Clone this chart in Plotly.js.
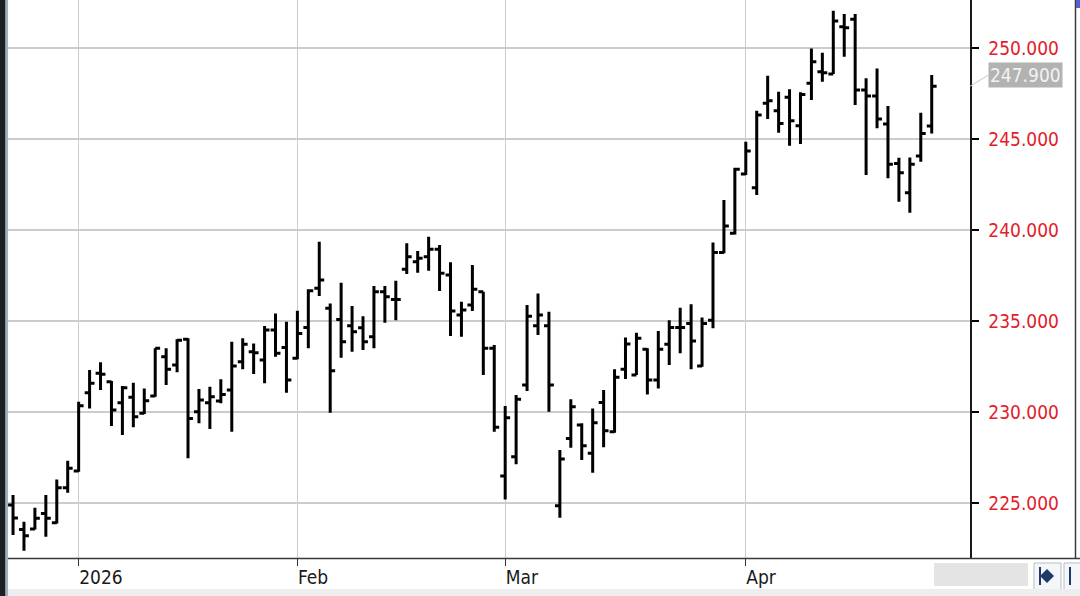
<!DOCTYPE html>
<html>
<head>
<meta charset="utf-8">
<script src="https://cdn.plot.ly/plotly-3.0.1.min.js"></script>
<style>
html,body{margin:0;padding:0;background:#fff;}
#chart{width:1080px;height:596px;}
</style>
</head>
<body>
<div id="chart"></div>
<script>
const dates = [
'2025-12-23','2025-12-24','2025-12-26','2025-12-29','2025-12-30','2025-12-31',
'2026-01-02','2026-01-05','2026-01-06','2026-01-07','2026-01-08','2026-01-09',
'2026-01-12','2026-01-13','2026-01-14','2026-01-15','2026-01-16',
'2026-01-20','2026-01-21','2026-01-22','2026-01-23',
'2026-01-26','2026-01-27','2026-01-28','2026-01-29','2026-01-30',
'2026-02-02','2026-02-03','2026-02-04','2026-02-05','2026-02-06',
'2026-02-09','2026-02-10','2026-02-11','2026-02-12','2026-02-13',
'2026-02-17','2026-02-18','2026-02-19','2026-02-20',
'2026-02-23','2026-02-24','2026-02-25','2026-02-26','2026-02-27',
'2026-03-02','2026-03-03','2026-03-04','2026-03-05','2026-03-06',
'2026-03-09','2026-03-10','2026-03-11','2026-03-12','2026-03-13',
'2026-03-16','2026-03-17','2026-03-18','2026-03-19','2026-03-20',
'2026-03-23','2026-03-24','2026-03-25','2026-03-26','2026-03-27',
'2026-03-30','2026-03-31',
'2026-04-01','2026-04-02',
'2026-04-06','2026-04-07','2026-04-08','2026-04-09','2026-04-10',
'2026-04-13','2026-04-14','2026-04-15','2026-04-16','2026-04-17',
'2026-04-20','2026-04-21','2026-04-22','2026-04-23','2026-04-24',
'2026-04-27'
];

const openPrices = [
224.89,223.55,223.57,224.43,223.92,225.84,226.76,231.06,232.13,231.67,
230.51,230.81,229.93,230.88,233.04,232.58,234.00,230.02,230.51,230.60,
231.21,232.76,233.31,232.86,234.51,233.55,232.95,234.65,236.80,235.70,
235.09,234.74,234.63,234.14,236.61,236.19,237.84,238.26,238.53,238.94,
237.53,235.33,235.88,236.61,233.50,226.48,227.54,231.48,234.74,234.74,
224.85,228.55,229.29,227.73,230.53,228.92,232.35,232.03,233.45,231.76,
233.72,234.65,234.87,232.53,235.05,238.77,239.82,243.08,242.32,246.96,
246.56,247.29,245.73,248.06,248.70,248.57,251.17,251.58,247.69,247.36,
245.82,243.66,242.05,244.07,245.71
];
const highPrices = [
225.44,223.97,224.74,225.44,226.30,227.32,230.57,232.31,232.73,231.70,
231.43,231.61,231.30,233.50,233.50,234.00,234.05,231.26,231.39,231.80,
233.86,234.05,233.77,234.73,235.42,234.96,235.57,236.74,239.36,235.97,
237.10,235.82,235.27,236.92,236.92,237.21,239.27,238.85,239.63,239.18,
238.23,236.06,238.08,236.61,233.68,230.33,230.93,235.88,236.52,235.51,
227.91,230.70,229.38,230.20,231.21,232.35,234.10,234.36,233.50,234.45,
235.05,235.73,235.92,235.20,239.32,241.65,243.42,244.85,246.56,248.48,
247.60,247.73,247.57,249.98,249.74,252.05,251.87,251.87,248.34,248.88,
246.81,243.97,243.99,246.45,248.52
];
const lowPrices = [
223.24,222.38,223.55,223.15,223.88,225.57,226.72,230.20,231.21,229.23,
228.74,229.16,229.89,230.84,231.48,232.18,227.46,229.38,229.07,230.48,
228.92,232.35,232.09,231.58,233.04,231.06,232.90,233.50,236.37,229.96,
232.98,233.31,233.41,233.50,234.91,235.05,237.58,237.65,237.76,236.65,
234.18,234.14,235.55,232.03,228.92,225.20,227.13,231.15,234.23,230.02,
224.19,228.04,227.36,226.66,228.06,228.86,231.81,232.03,230.97,231.30,
232.58,233.23,232.35,232.49,234.60,238.72,239.76,243.02,241.92,246.10,
245.35,244.63,244.73,247.14,248.15,248.57,249.52,246.87,243.02,245.59,
242.84,241.55,240.95,243.75,245.31
];
const closePrices = [
224.18,223.20,224.16,224.16,225.84,226.91,230.35,231.58,232.07,230.11,
231.34,229.74,230.62,233.50,232.35,233.95,229.65,230.66,230.84,230.97,
232.53,233.72,233.26,234.51,233.23,231.76,234.32,236.67,237.25,232.27,
233.86,234.41,233.86,236.61,236.34,236.19,238.53,238.45,238.94,237.62,
235.55,235.60,236.74,233.50,229.16,229.69,230.70,235.27,235.33,231.48,
227.42,230.29,228.15,229.41,228.97,231.91,233.74,234.05,231.76,233.45,
234.65,234.65,233.90,234.87,238.77,240.22,243.34,244.34,246.32,247.10,
245.86,246.01,247.45,249.25,248.64,251.48,251.12,247.69,247.36,246.10,
243.61,243.15,243.61,245.31,247.90
];

const monthTickDates = ['2026-01-02','2026-02-02','2026-03-02','2026-04-01'];
const monthTickLabels = ['2026','Feb','Mar','Apr'];
const priceTicks = [225,230,235,240,245,250];
const lastPrice = 247.900;

const labelFont = 'DejaVu Sans Condensed, Liberation Sans, DejaVu Sans, sans-serif';

const trace = {
  type: 'ohlc',
  x: dates,
  open: openPrices,
  high: highPrices,
  low: lowPrices,
  close: closePrices,
  increasing: {line: {color: '#000000', width: 3}},
  decreasing: {line: {color: '#000000', width: 3}},
  tickwidth: 0.45,
  hoverinfo: 'none',
  showlegend: false
};

// paper helpers for chrome outside plot area (plot: x 8..970, y 0..558)
const W = 962, H = 558;
const px = v => (v - 8) / W;
const py = v => (H - v) / H;

const layout = {
  width: 1080,
  height: 596,
  margin: {l: 8, r: 110, t: 0, b: 38, pad: 0},
  paper_bgcolor: '#ffffff',
  plot_bgcolor: '#ffffff',
  showlegend: false,
  xaxis: {
    type: 'category',
    range: [-0.46, 87.5],
    tickmode: 'array',
    tickvals: monthTickDates,
    ticktext: monthTickLabels,
    ticks: 'outside',
    ticklen: 7,
    tickwidth: 1,
    tickcolor: '#333333',
    ticklabelposition: 'outside right',
    ticklabelstandoff: 2,
    tickfont: {family: labelFont, size: 19, color: '#1a1a1a'},
    showgrid: true,
    gridcolor: '#cccccc',
    gridwidth: 1,
    showline: false,
    zeroline: false,
    rangeslider: {visible: false},
    fixedrange: true
  },
  yaxis: {
    side: 'right',
    range: [221.98, 252.64],
    tickmode: 'array',
    tickvals: priceTicks,
    tickformat: '.3f',
    ticks: 'outside',
    ticklen: 7,
    tickwidth: 1.5,
    tickcolor: '#000000',
    ticklabelstandoff: 6,
    tickfont: {family: labelFont, size: 19, color: '#e3202a'},
    showgrid: true,
    gridcolor: '#cccccc',
    gridwidth: 1.2,
    showline: true,
    linecolor: '#1a1a1a',
    linewidth: 1.5,
    zeroline: false,
    fixedrange: true
  },
  shapes: [
    {type: 'line', xref: 'paper', yref: 'paper', x0: px(8), x1: px(1080), y0: py(558.5), y1: py(558.5),
     line: {color: '#3a3a3a', width: 1.5}},
    {type: 'line', xref: 'paper', yref: 'paper', x0: px(1075.5), x1: px(1075.5), y0: py(0), y1: py(558.5),
     line: {color: '#3a3a3a', width: 1.5}},
    {type: 'rect', xref: 'paper', yref: 'paper', x0: px(0), x1: px(5.5), y0: py(0), y1: py(596),
     fillcolor: '#1c1f24', line: {width: 0}},
    {type: 'line', xref: 'paper', yref: 'paper', x0: px(7), x1: px(7), y0: py(0), y1: py(596),
     line: {color: '#9fb0c8', width: 2}},
    {type: 'rect', xref: 'paper', yref: 'paper', x0: px(934), x1: px(1028), y0: py(563), y1: py(586),
     fillcolor: '#e4e4e4', line: {width: 0}},
    {type: 'rect', xref: 'paper', yref: 'paper', x0: px(1034), x1: px(1061), y0: py(563), y1: py(590),
     fillcolor: '#f4f6f9', line: {color: '#b8bcc4', width: 1}},
    {type: 'rect', xref: 'paper', yref: 'paper', x0: px(1064), x1: px(1084), y0: py(563), y1: py(590),
     fillcolor: '#f4f6f9', line: {color: '#b8bcc4', width: 1}},
    {type: 'path', xref: 'paper', yref: 'paper',
     path: 'M ' + px(1047) + ' ' + py(569) + ' L ' + px(1054) + ' ' + py(576) + ' L ' + px(1047) + ' ' + py(583) + ' L ' + px(1040) + ' ' + py(576) + ' Z',
     fillcolor: '#1d3a6b', line: {width: 0}},
    {type: 'line', xref: 'paper', yref: 'paper', x0: px(1040), x1: px(1040), y0: py(567), y1: py(585),
     line: {color: '#1d3a6b', width: 2}},
    {type: 'line', xref: 'paper', yref: 'paper', x0: px(1070), x1: px(1070), y0: py(567), y1: py(585),
     line: {color: '#1d3a6b', width: 2}},
    {type: 'rect', xref: 'paper', yref: 'paper', x0: px(8), x1: px(1080), y0: py(589), y1: py(596),
     fillcolor: '#eeeeee', line: {width: 0}},
    {type: 'rect', xref: 'paper', yref: 'paper', x0: px(1076), x1: px(1080), y0: py(0), y1: py(8),
     fillcolor: '#5060d0', line: {width: 0}}
  ],
  annotations: [
    {
      xref: 'paper', yref: 'y',
      x: 1, y: lastPrice,
      text: lastPrice.toFixed(3),
      showarrow: true,
      arrowhead: 0,
      arrowwidth: 1,
      arrowcolor: '#c4c4c4',
      ax: 18, ay: -11,
      xanchor: 'left',
      yanchor: 'middle',
      bgcolor: '#b2b2b2',
      borderpad: 1,
      font: {family: labelFont, size: 19, color: '#f2f2f2'}
    }
  ]
};

Plotly.newPlot('chart', [trace], layout, {displayModeBar: false, staticPlot: true});
</script>
</body>
</html>
